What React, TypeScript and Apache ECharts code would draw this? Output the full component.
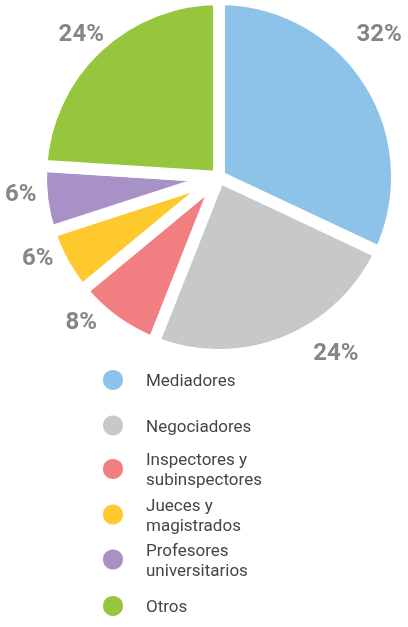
import React, { useEffect, useRef } from "react";
import * as echarts from "echarts";

const categories = [
  "Mediadores",
  "Negociadores",
  "Inspectores y\nsubinspectores",
  "Jueces y\nmagistrados",
  "Profesores\nuniversitarios",
  "Otros",
];
const values = [32, 24, 8, 6, 6, 24];
const colors = ["#8dc3e9", "#c7c8ca", "#f17f82", "#fdc92c", "#a891c6", "#95c63e"];

// label placement tweaks (style only): angle shift from slice bisector (deg) and distance from centre (px)
const labelAngleShift = [9.5, 12.2, -7.8, -5, -2.6, 0.6];
const labelDistance = [215, 210, 199, 198, 199, 199];

const CX = 219;
const CY = 177;

export default function App() {
  const ref = useRef<HTMLDivElement>(null);
  useEffect(() => {
    if (!ref.current) return;
    const chart = echarts.init(ref.current, undefined, { renderer: "svg" });
    const total = values.reduce((a, b) => a + b, 0);
    const bisectors: number[] = [];
    let acc = 0;
    values.forEach((v) => {
      const start = 90 - (acc / total) * 360;
      const end = 90 - ((acc + v) / total) * 360;
      bisectors.push((start + end) / 2);
      acc += v;
    });

    const legendCenters = [379, 424.5, 469, 514.5, 559.5, 605];
    const legendOffsets = [16, 16, 25, 25, 25, 16];

    chart.setOption({
      animation: false,
      color: colors,
      legend: categories.map((c, i) => ({
        data: [c],
        orient: "vertical",
        left: 96,
        top: legendCenters[i] - legendOffsets[i],
        icon: "circle",
        itemWidth: 22,
        itemHeight: 22,
        selectedMode: false,
        textStyle: {
          fontFamily: "Roboto",
          fontSize: 17,
          lineHeight: 20,
          color: "#454545",
          padding: [0, 0, 0, 17],
        },
      })),
      series: [
        {
          type: "pie",
          center: [CX, CY],
          radius: 178,
          startAngle: 90,
          clockwise: true,
          itemStyle: { borderColor: "#ffffff", borderWidth: 12 },
          label: {
            show: true,
            position: "inside",
            formatter: "{c}%",
            fontFamily: "Roboto",
            fontWeight: "bold",
            fontSize: 24,
            color: "#868686",
            overflow: "none",
          },
          labelLine: { show: false },
          labelLayout: (params: any) => {
            const i = params.dataIndex;
            const a = ((bisectors[i] + labelAngleShift[i]) * Math.PI) / 180;
            const d = labelDistance[i];
            return {
              x: CX + d * Math.cos(a),
              y: CY - d * Math.sin(a),
              align: "center",
              verticalAlign: "middle",
            };
          },
          data: categories.map((c, i) => ({ name: c, value: values[i] })),
        },
      ],
    });
    return () => chart.dispose();
  }, []);
  return (
    <div
      ref={ref}
      style={{ position: "fixed", left: 0, top: 0, width: 408, height: 627 }}
    />
  );
}
